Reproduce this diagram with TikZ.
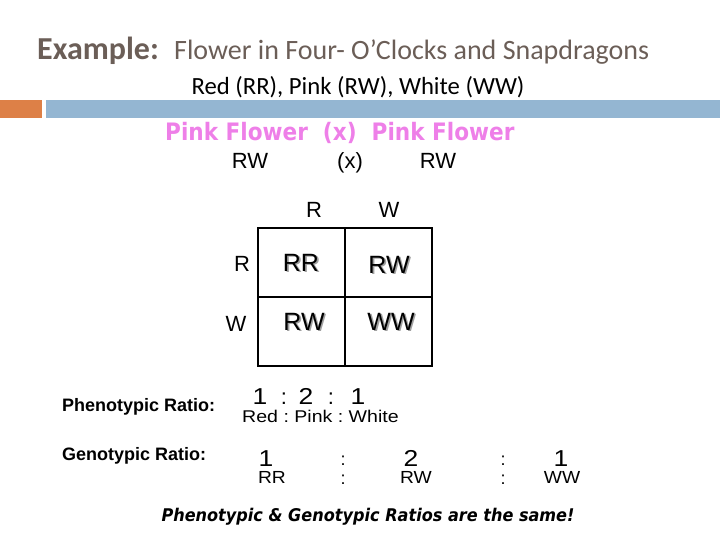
\documentclass[tikz,border=0pt]{standalone}
\usepackage{fontspec}
\setmainfont{Carlito}
\newfontfamily\arialf{Liberation Sans}
\newfontfamily\dejaf{DejaVu Sans}
\definecolor{titlegray}{HTML}{6B5E57}
\definecolor{barorange}{HTML}{DD8047}
\definecolor{barblue}{HTML}{94B6D2}
\definecolor{pinkv}{HTML}{EE7FE8}
\definecolor{shadowgray}{HTML}{A0A0A0}
\tikzset{
  txt/.style={inner sep=0pt, anchor=base},
  cellt/.style={txt, font=\arialf\fontsize{25}{27}\selectfont},
  lbl/.style={txt, font=\arialf\fontsize{22}{24}\selectfont},
  grid/.style={line width=2pt, black},
  num/.style={txt, xscale=1.15, font=\arialf\fontsize{23}{24}\selectfont},
  colon/.style={txt, font=\arialf\fontsize{18}{20}\selectfont},
  gsm/.style={txt, xscale=1.1, font=\arialf\fontsize{17.5}{18}\selectfont},
  rlab/.style={txt, anchor=base west, font=\arialf\bfseries\fontsize{18}{20}\selectfont},
}
\newcommand{\shadowtext}[1]{\makebox[0pt][l]{\hspace{1.6pt}\raisebox{-1.6pt}{\textcolor{shadowgray}{#1}}}#1}
\begin{document}
\begin{tikzpicture}[x=1pt,y=-1pt]
\useasboundingbox (0,0) rectangle (720,540);
% title
\node[txt, anchor=base west, text=titlegray, font=\fontsize{32}{34}\selectfont\bfseries] (ex) at (37,60) {Example:};
\node[txt, anchor=base west, text=titlegray, font=\fontsize{28}{30}\selectfont] (ttl) at (174,60) {Flower in Four- O’Clocks and Snapdragons};
\node[txt, font=\fontsize{24.7}{26}\selectfont] (sub) at (358,95) {Red (RR), Pink (RW), White (WW)};
% bars
\fill[barorange] (0,100) rectangle (42,118);
\fill[barblue] (46,100) rectangle (720,118);
% cross
\node[txt, anchor=base west, xscale=0.9, text=pinkv, font=\dejaf\bfseries\fontsize{24}{26}\selectfont] (cross) at (165,141) {Pink Flower\ \ (x)\ \ Pink Flower};
\node[lbl] (p1) at (250,169) {RW};
\node[lbl] (px) at (350,169) {(x)};
\node[lbl] (p2) at (438,169) {RW};
% punnett
\node[lbl] (cR) at (314,218) {R};
\node[lbl] (cW) at (389,218) {W};
\node[lbl] (rR) at (242,271) {R};
\node[lbl] (rW) at (236,331) {W};
\draw[grid] (258,228) rectangle (432,366);
\draw[grid] (345,228) -- (345,366);
\draw[grid] (258,297) -- (432,297);
\node[cellt] (t11) at (301,271) {\shadowtext{RR}};
\node[cellt] (t12) at (389,273) {\shadowtext{RW}};
\node[cellt] (t21) at (304,330) {\shadowtext{RW}};
\node[cellt] (t22) at (391,330) {\shadowtext{WW}};
% phenotypic ratio
\node[rlab] (phl) at (62,411) {Phenotypic Ratio:};
\node[num] (ph1) at (260,404) {1};
\node[lbl] (phc1) at (284,404) {:};
\node[num] (ph2) at (306,404) {2};
\node[lbl] (phc2) at (331,404) {:};
\node[num] (ph3) at (358,404) {1};
\node[txt, anchor=base west, xscale=1.15, font=\arialf\fontsize{17}{18}\selectfont] (phw) at (242,422) {Red :\ Pink\ :\ White};
% genotypic ratio
\node[rlab] (gel) at (62,460) {Genotypic Ratio:};
\node[num] (g1) at (266,466) {1};
\node[colon] (gc1) at (343,465) {:};
\node[num] (g2) at (411,466) {2};
\node[colon] (gc2) at (503,465) {:};
\node[num] (g3) at (561,466) {1};
\node[gsm] (gRR) at (272,483) {RR};
\node[colon] (gd1) at (343,484) {:};
\node[gsm] (gRW) at (416,483) {RW};
\node[colon] (gd2) at (503,484) {:};
\node[gsm] (gWW) at (562,483) {WW};
\node[txt, xscale=0.92, font=\dejaf\bfseries\itshape\fontsize{17.5}{19}\selectfont] (same) at (368,521) {Phenotypic \& Genotypic Ratios are the same!};
\end{tikzpicture}
\end{document}
